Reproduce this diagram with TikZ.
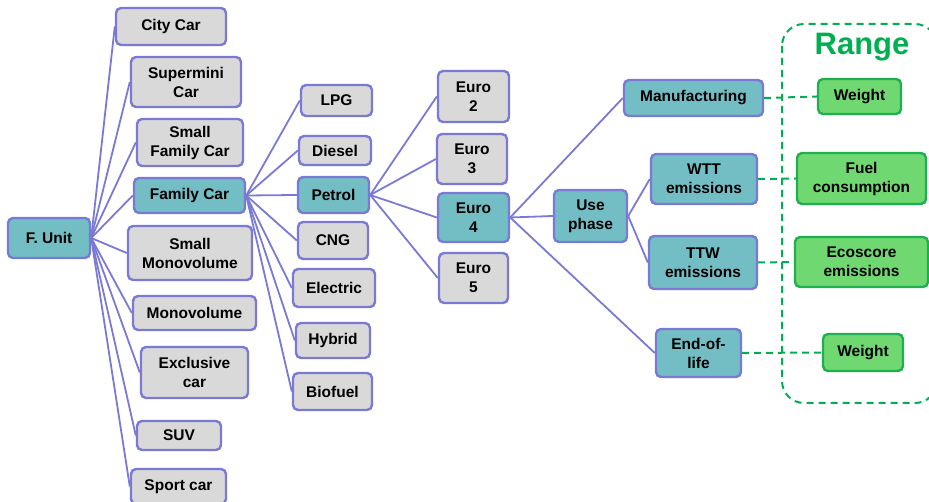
\documentclass[tikz,border=0pt]{standalone}
\usepackage{fontspec}
\setmainfont{Liberation Sans}
\definecolor{bord}{RGB}{122,122,214}
\definecolor{teal1}{RGB}{114,190,196}
\definecolor{gray1}{RGB}{217,217,217}
\definecolor{gfill}{RGB}{112,216,112}
\definecolor{gbord}{RGB}{30,176,80}
\definecolor{rangec}{RGB}{0,176,80}
\begin{document}
\begin{tikzpicture}[x=1pt,y=-1pt,
  base/.style={draw=bord, line width=2.4pt, rounded corners=5pt, align=center, inner sep=1pt,
     font=\fontsize{15.5}{19}\selectfont\bfseries, text=black},
  gbox/.style={base, fill=gray1},
  tbox/.style={base, fill=teal1},
  rbox/.style={base, draw=gbord, fill=gfill},
  link/.style={draw=bord, line width=1.8pt},
  dlink/.style={draw=rangec, line width=2pt, dash pattern=on 7pt off 5pt}]
\useasboundingbox (0,0) rectangle (929,502);
\newcommand{\bx}[7]{\node[#1, minimum width=#5-#3, minimum height=#6-#4] (#2) at ({(#3+#5)/2},{(#4+#6)/2}) {#7};}
% range box
\draw[rangec, line width=2pt, dash pattern=on 7pt off 5pt, rounded corners=22pt] (782,24) rectangle (937,403);
\node[text=rangec, font=\fontsize{31}{34}\selectfont\bfseries] (range) at (862,47) {Range};
% level 0
\bx{tbox}{funit}{8}{218}{90}{258}{F. Unit}
% cars
\bx{gbox}{city}{116}{8}{226}{45}{City Car}
\bx{gbox}{supermini}{131}{57}{241}{107}{Supermini\\Car}
\bx{gbox}{smallfam}{137}{119}{243}{166}{Small\\Family Car}
\bx{tbox}{family}{134}{178}{245}{213}{Family Car}
\bx{gbox}{smallmono}{128}{226}{252}{280}{Small\\Monovolume}
\bx{gbox}{mono}{133}{296}{256}{330}{Monovolume}
\bx{gbox}{excl}{141}{347}{248}{398}{Exclusive\\car}
\bx{gbox}{suv}{137}{421}{221}{450}{SUV}
\bx{gbox}{sport}{131}{469}{226}{504}{Sport car}
% fuels
\bx{gbox}{lpg}{301}{85}{372}{116}{LPG}
\bx{gbox}{diesel}{299}{136}{371}{165}{Diesel}
\bx{tbox}{petrol}{298}{177}{369}{213}{Petrol}
\bx{gbox}{cng}{298}{222}{368}{259}{CNG}
\bx{gbox}{electric}{293}{269}{375}{307}{Electric}
\bx{gbox}{hybrid}{296}{323}{370}{358}{Hybrid}
\bx{gbox}{biofuel}{293}{373}{372}{410}{Biofuel}
% euro
\bx{gbox}{eurotwo}{438}{71}{509}{122}{Euro\\2}
\bx{gbox}{eurothree}{437}{134}{507}{184}{Euro\\3}
\bx{tbox}{eurofour}{438}{193}{509}{242}{Euro\\4}
\bx{gbox}{eurofive}{439}{253}{508}{303}{Euro\\5}
% phases
\bx{tbox}{use}{554}{190}{627}{242}{Use\\phase}
\bx{tbox}{manuf}{624}{80}{763}{116}{Manufacturing}
\bx{tbox}{wtt}{651}{154}{757}{204}{WTT\\emissions}
\bx{tbox}{ttw}{649}{236}{757}{289}{TTW\\emissions}
\bx{tbox}{eol}{656}{329}{741}{377}{End-of-\\life}
% range items
\bx{rbox}{weighta}{818}{79}{901}{114}{Weight}
\bx{rbox}{fuelc}{797}{153}{926}{204}{Fuel\\consumption}
\bx{rbox}{ecos}{795}{237}{928}{287}{Ecoscore\\emissions}
\bx{rbox}{weightb}{823}{334}{903}{371}{Weight}
% links
\begin{scope}[on background layer/.style={}]
\end{scope}
\foreach \t in {city,supermini,smallfam,family,smallmono,mono,excl,suv,sport}
  \draw[link] (funit.east) -- (\t.west);
\foreach \t in {lpg,diesel,petrol,cng,electric,hybrid,biofuel}
  \draw[link] (family.east) -- (\t.west);
\foreach \t in {eurotwo,eurothree,eurofour,eurofive}
  \draw[link] (petrol.east) -- (\t.west);
\foreach \t in {use,manuf,eol}
  \draw[link] (eurofour.east) -- (\t.west);
\foreach \t in {wtt,ttw}
  \draw[link] (use.east) -- (\t.west);
\draw[dlink] (manuf.east) -- (weighta.west);
\draw[dlink] (wtt.east) -- (fuelc.west);
\draw[dlink] (ttw.east) -- (ecos.west);
\draw[dlink] (eol.east) -- (weightb.west);
\end{tikzpicture}
\end{document}
